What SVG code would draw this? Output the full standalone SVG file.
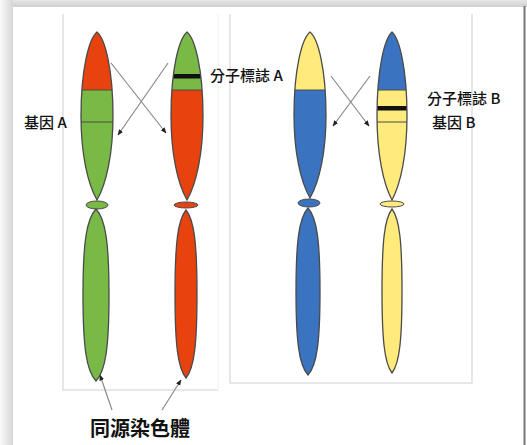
<svg xmlns="http://www.w3.org/2000/svg" width="527" height="445" viewBox="0 0 527 445">
  <defs>
    <style>
      .lbl { font-family: "Noto Sans CJK TC", "Liberation Sans", sans-serif; font-size: 15px; font-weight: 500; fill: #111; }
      .title { font-family: "Noto Sans CJK TC", "Liberation Sans", sans-serif; font-size: 20px; font-weight: bold; fill: #111; }
      .outline { fill: none; stroke: #4a4a4a; stroke-width: 1.3; }
      .frame { fill: none; stroke: #e0e0e0; stroke-width: 1.5; }
      .conn { stroke: #8a8a8a; stroke-width: 1.2; fill: none; marker-end: url(#head); }
      .red { fill: #E8430F; }
      .green { fill: #79B945; }
      .blue { fill: #3A73BF; }
      .yellow { fill: #FFEB7C; }
      .band { fill: #111; }
      .thin { stroke: #4a4a4a; stroke-width: 1; }
    </style>
    <marker id="head" viewBox="0 0 10 10" refX="9" refY="5" markerWidth="6" markerHeight="6" orient="auto" markerUnits="userSpaceOnUse">
      <path d="M0,1 L10,5 L0,9 Z" fill="#222"/>
    </marker>
    <linearGradient id="shadowTop" x1="0" y1="0" x2="0" y2="1">
      <stop offset="0" stop-color="#e6e6e6"/>
      <stop offset="1" stop-color="#cfcfcf"/>
    </linearGradient>
    <linearGradient id="shadowLeft" x1="0" y1="0" x2="1" y2="0">
      <stop offset="0" stop-color="#fafafa"/>
      <stop offset="1" stop-color="#d6d6d6"/>
    </linearGradient>
    <!-- arm outlines: upper arms round at the top, tapering into the centromere -->
    <path id="arm1u" d="M97,32 C105,38.7 113,69 113,116 C113,153 106.6,183.2 97,200 C87.4,183.2 81,153 81,116 C81,69 89,38.7 97,32 Z"/>
    <path id="arm1l" d="M96,209 C105.75,219.3 109,243.4 109,295 C109,346.6 105.75,370.7 96,381 C86.25,370.7 83,346.6 83,295 C83,243.4 86.25,219.3 96,209 Z"/>
    <path id="arm2u" d="M187,32 C195,38.7 203,69 203,116 C203,153 196.6,183.2 187,200 C177.4,183.2 171,153 171,116 C171,69 179,38.7 187,32 Z"/>
    <path id="arm2l" d="M186,210 C194.25,220.1 197,243.6 197,294 C197,344.4 194.25,367.9 186,378 C177.75,367.9 175,344.4 175,294 C175,243.6 177.75,220.1 186,210 Z"/>
    <path id="arm3u" d="M310,32 C318,38.6 326,68.5 326,115 C326,151.5 319.6,181.4 310,198 C300.4,181.4 294,151.5 294,115 C294,68.5 302,38.6 310,32 Z"/>
    <path id="arm3l" d="M308,208 C317,218 320,241.4 320,291.5 C320,341.6 317,365 308,375 C299,365 296,341.6 296,291.5 C296,241.4 299,218 308,208 Z"/>
    <path id="arm4u" d="M392,32 C399.5,38.7 407,69 407,116 C407,153 401,183.2 392,200 C383,183.2 377,153 377,116 C377,69 384.5,38.7 392,32 Z"/>
    <path id="arm4l" d="M392,209 C399.5,218.8 402,241.8 402,291 C402,340.2 399.5,363.2 392,373 C384.5,363.2 382,340.2 382,291 C382,241.8 384.5,218.8 392,209 Z"/>
    <clipPath id="c1"><use href="#arm1u"/></clipPath>
    <clipPath id="c2"><use href="#arm2u"/></clipPath>
    <clipPath id="c3"><use href="#arm3u"/></clipPath>
    <clipPath id="c4"><use href="#arm4u"/></clipPath>
  </defs>

  <!-- paper with soft edge shadows -->
  <rect x="0" y="0" width="527" height="445" fill="#ffffff"/>
  <rect x="0" y="0" width="527" height="7" fill="url(#shadowTop)"/>
  <rect x="0" y="0" width="13" height="445" fill="url(#shadowLeft)"/>
  <rect x="523.5" y="6" width="2" height="439" fill="#777"/>

  <!-- panel frames -->
  <g id="frames">
    <polyline class="frame" points="63,14 63,390 218,390"/>
    <line x1="218" y1="14" x2="218" y2="390" stroke="#f0f0f0" stroke-width="1"/>
    <polyline class="frame" points="230,14 230,383 472,383 472,14"/>
  </g>

  <!-- chromosome 1: red / green -->
  <g id="chromosome-1">
    <g clip-path="url(#c1)">
      <rect class="red" x="78" y="30" width="40" height="60"/>
      <rect class="green" x="78" y="90" width="40" height="112"/>
      <line class="thin" x1="78" y1="90" x2="118" y2="90"/>
      <line class="thin" x1="78" y1="122" x2="118" y2="122"/>
    </g>
    <use href="#arm1u" class="outline"/>
    <ellipse class="green" cx="97" cy="205" rx="11" ry="4" stroke="#4a4a4a" stroke-width="1"/>
    <use href="#arm1l" class="green"/>
    <use href="#arm1l" class="outline"/>
  </g>

  <!-- chromosome 2: green / red -->
  <g id="chromosome-2">
    <g clip-path="url(#c2)">
      <rect class="green" x="168" y="30" width="40" height="60"/>
      <rect class="red" x="168" y="90" width="40" height="112"/>
      <rect class="band" x="168" y="74" width="40" height="4.5"/>
      <line class="thin" x1="168" y1="90" x2="208" y2="90"/>
    </g>
    <use href="#arm2u" class="outline"/>
    <ellipse class="red" cx="186" cy="205" rx="12" ry="3" stroke="#4a4a4a" stroke-width="1"/>
    <use href="#arm2l" class="red"/>
    <use href="#arm2l" class="outline"/>
  </g>

  <!-- chromosome 3: yellow / blue -->
  <g id="chromosome-3">
    <g clip-path="url(#c3)">
      <rect class="yellow" x="290" y="30" width="40" height="60"/>
      <rect class="blue" x="290" y="90" width="40" height="112"/>
      <line class="thin" x1="290" y1="90" x2="330" y2="90"/>
    </g>
    <use href="#arm3u" class="outline"/>
    <ellipse class="blue" cx="309" cy="203" rx="11" ry="4" stroke="#4a4a4a" stroke-width="1"/>
    <use href="#arm3l" class="blue"/>
    <use href="#arm3l" class="outline"/>
  </g>

  <!-- chromosome 4: blue / yellow -->
  <g id="chromosome-4">
    <g clip-path="url(#c4)">
      <rect class="blue" x="374" y="30" width="40" height="60"/>
      <rect class="yellow" x="374" y="90" width="40" height="112"/>
      <line class="thin" x1="374" y1="90" x2="414" y2="90"/>
      <rect class="band" x="374" y="106" width="40" height="4.5"/>
      <line class="thin" x1="374" y1="122" x2="414" y2="122"/>
    </g>
    <use href="#arm4u" class="outline"/>
    <ellipse class="yellow" cx="392" cy="204" rx="12" ry="3" stroke="#4a4a4a" stroke-width="1"/>
    <use href="#arm4l" class="yellow"/>
    <use href="#arm4l" class="outline"/>
  </g>

  <!-- crossing-over arrows and label pointers -->
  <g id="connectors">
    <line class="conn" x1="111" y1="63" x2="166" y2="133"/>
    <line class="conn" x1="168" y1="63" x2="118" y2="135"/>
    <line class="conn" x1="331" y1="76" x2="369" y2="126"/>
    <line class="conn" x1="370" y1="76" x2="333" y2="126"/>
    <line class="conn" x1="112" y1="410" x2="100" y2="375"/>
    <line class="conn" x1="162" y1="410" x2="181" y2="380"/>
  </g>

  <!-- labels -->
  <g id="labels">
    <text class="lbl" x="210" y="81">分子標誌 A</text>
    <text class="lbl" x="24" y="128">基因 A</text>
    <text class="lbl" x="427" y="104">分子標誌 B</text>
    <text class="lbl" x="432" y="128">基因 B</text>
    <text class="title" x="90" y="436">同源染色體</text>
  </g>
</svg>
